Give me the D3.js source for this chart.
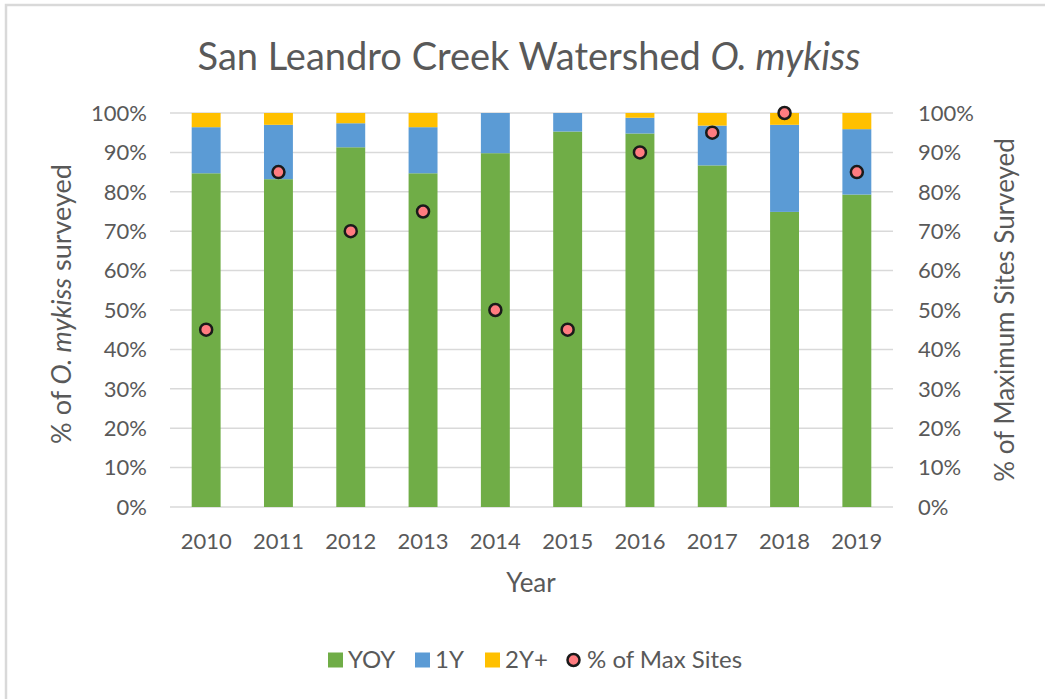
<!DOCTYPE html>
<html>
<head>
<meta charset="utf-8">
<script src="https://cdn.jsdelivr.net/npm/d3@7"></script>
<style>
  body { margin: 0; background: #fff; }
  text { font-family: Lato, "Open Sans", sans-serif; fill: #595959; }
</style>
</head>
<body>
<div id="chart"></div>
<script>
// values (percent)
const years = ["2010", "2011", "2012", "2013", "2014", "2015", "2016", "2017", "2018", "2019"];
const yoy = [84.7, 83.2, 91.3, 84.7, 89.8, 95.3, 94.8, 86.7, 74.9, 79.3];
const oneY = [11.7, 13.8, 6.1, 11.7, 10.2, 4.7, 4.0, 10.1, 22.1, 16.6];
const twoYPlus = [3.6, 3.0, 2.6, 3.6, 0, 0, 1.2, 3.2, 3.0, 4.1];
const maxSites = [45, 85, 70, 75, 50, 45, 90, 95, 100, 85];
const yTicks = [0, 10, 20, 30, 40, 50, 60, 70, 80, 90, 100];

const colors = { YOY: "#70AD47", "1Y": "#5B9BD5", "2Y+": "#FFC000" };

const W = 1045, H = 699;
const margin = { top: 113, right: 152, bottom: 192, left: 170 };

const svg = d3.select("#chart").append("svg")
  .attr("width", W)
  .attr("height", H);

// chart border (only top/left visible in the crop)
svg.append("rect")
  .attr("x", 6).attr("y", 5)
  .attr("width", W + 20).attr("height", H + 20)
  .attr("fill", "none")
  .attr("stroke", "#d9d9d9")
  .attr("stroke-width", 2.5);

const x = d3.scaleBand()
  .domain(years)
  .range([margin.left, W - margin.right])
  .paddingInner(0.6)
  .paddingOuter(0.3);

const y = d3.scaleLinear()
  .domain([0, 100])
  .range([H - margin.bottom, margin.top]);

// gridlines
svg.append("g")
  .selectAll("line")
  .data(yTicks)
  .join("line")
  .attr("x1", margin.left)
  .attr("x2", W - margin.right)
  .attr("y1", d => y(d))
  .attr("y2", d => y(d))
  .attr("stroke", "#d9d9d9")
  .attr("stroke-width", 1.5);

// stacked bars
const rows = years.map((yr, i) => ({ year: yr, YOY: yoy[i], "1Y": oneY[i], "2Y+": twoYPlus[i] }));
const stack = d3.stack().keys(["YOY", "1Y", "2Y+"])(rows);

svg.append("g")
  .selectAll("g")
  .data(stack)
  .join("g")
  .attr("fill", d => colors[d.key])
  .selectAll("rect")
  .data(d => d)
  .join("rect")
  .attr("x", d => x(d.data.year))
  .attr("width", x.bandwidth())
  .attr("y", d => y(d[1]))
  .attr("height", d => y(d[0]) - y(d[1]));

// left axis labels
const fmt = d => d + "%";
svg.append("g")
  .selectAll("text")
  .data(yTicks)
  .join("text")
  .attr("x", 147)
  .attr("y", d => y(d))
  .attr("dy", "0.35em")
  .attr("text-anchor", "end")
  .style("font-size", "22px")
  .text(fmt);

// right axis labels
svg.append("g")
  .selectAll("text")
  .data(yTicks)
  .join("text")
  .attr("x", 918)
  .attr("y", d => y(d))
  .attr("dy", "0.35em")
  .attr("text-anchor", "start")
  .style("font-size", "22px")
  .text(fmt);

// x labels
svg.append("g")
  .selectAll("text")
  .data(years)
  .join("text")
  .attr("x", d => x(d) + x.bandwidth() / 2)
  .attr("y", 549)
  .attr("text-anchor", "middle")
  .style("font-size", "22px")
  .text(d => d);

// % of max sites points
svg.append("g")
  .selectAll("circle")
  .data(maxSites)
  .join("circle")
  .attr("cx", (d, i) => x(years[i]) + x.bandwidth() / 2)
  .attr("cy", d => y(d))
  .attr("r", 6)
  .attr("fill", "#FF7C80")
  .attr("stroke", "#1a1a1a")
  .attr("stroke-width", 2.5);

// title
const title = svg.append("text")
  .attr("x", 529)
  .attr("y", 70)
  .attr("text-anchor", "middle")
  .style("font-size", "38px");
title.append("tspan").text("San Leandro Creek Watershed ");
title.append("tspan").style("font-style", "italic").text("O. mykiss");

// axis titles
svg.append("text")
  .attr("x", 531)
  .attr("y", 592)
  .attr("text-anchor", "middle")
  .style("font-size", "26px")
  .text("Year");

const leftTitle = svg.append("text")
  .attr("transform", "translate(62,304) rotate(-90)")
  .attr("text-anchor", "middle")
  .attr("dy", "0.35em")
  .style("font-size", "27px");
leftTitle.append("tspan").text("% of ");
leftTitle.append("tspan").style("font-style", "italic").text("O. mykiss");
leftTitle.append("tspan").text(" surveyed");

svg.append("text")
  .attr("transform", "translate(1005,310) rotate(-90)")
  .attr("text-anchor", "middle")
  .attr("dy", "0.35em")
  .style("font-size", "26px")
  .text("% of Maximum Sites Surveyed");

// legend
const legendItems = [
  { label: "YOY", type: "rect", color: colors.YOY, x: 328 },
  { label: "1Y", type: "rect", color: colors["1Y"], x: 415 },
  { label: "2Y+", type: "rect", color: colors["2Y+"], x: 485 },
  { label: "% of Max Sites", type: "circle", color: "#FF7C80", x: 566 }
];
const legend = svg.append("g");
legendItems.forEach(item => {
  const g = legend.append("g").attr("transform", `translate(${item.x},660)`);
  if (item.type === "rect") {
    g.append("rect")
      .attr("x", 0).attr("y", -7.5)
      .attr("width", 15).attr("height", 15)
      .attr("fill", item.color);
  } else {
    g.append("circle")
      .attr("cx", 7.5).attr("cy", 0)
      .attr("r", 6)
      .attr("fill", item.color)
      .attr("stroke", "#1a1a1a")
      .attr("stroke-width", 2.5);
  }
  g.append("text")
    .attr("x", item.type === "rect" ? 20 : 21)
    .attr("y", 0)
    .attr("dy", "0.35em")
    .style("font-size", "24px")
    .text(item.label);
});
</script>
</body>
</html>
